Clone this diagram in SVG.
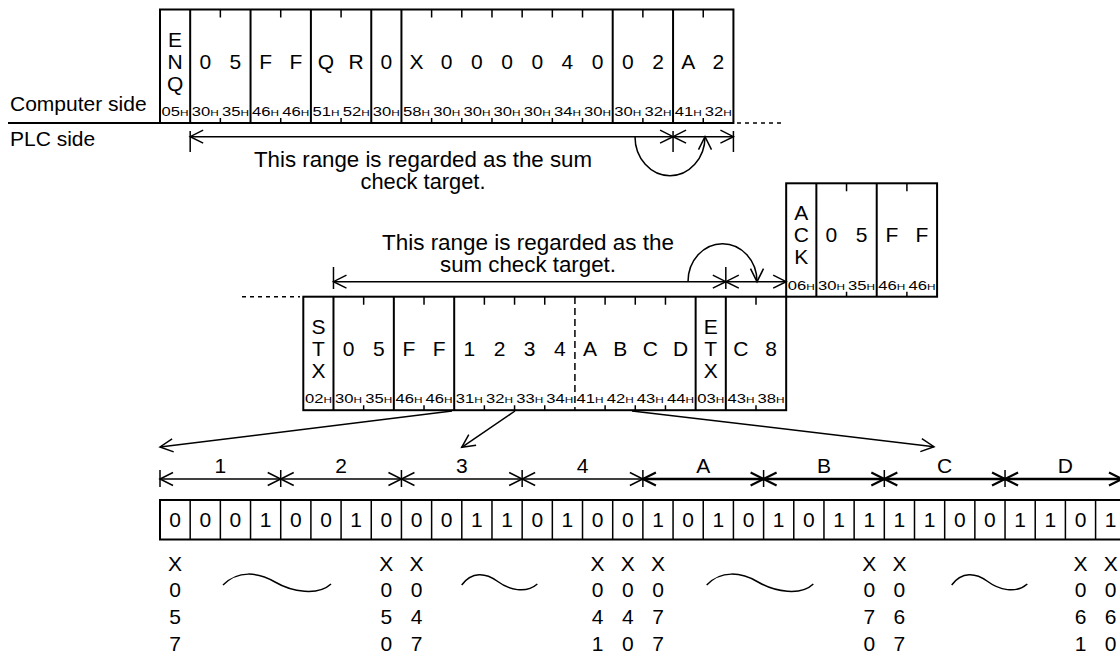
<svg xmlns="http://www.w3.org/2000/svg" width="1120" height="655" viewBox="0 0 1120 655">
<style>
text{font-family:"Liberation Sans",Arial,Helvetica,sans-serif;fill:#000}
.c{font-size:21px;text-anchor:middle}
.l{font-size:21px}
.r{font-size:22px;text-anchor:middle}
.hx{font-size:12px}
.hs{font-size:8.5px}
.fr{fill:none;stroke:#000;stroke-width:2}
.tk{fill:none;stroke:#000;stroke-width:1.5}
.dm{fill:none;stroke:#000;stroke-width:1.5}
.dmb{fill:none;stroke:#000;stroke-width:2.4}
.dot{fill:none;stroke:#000;stroke-width:1.5;stroke-dasharray:4 4}
.sq{fill:none;stroke:#000;stroke-width:1.5}
</style>
<defs>
<marker id="ah" markerUnits="userSpaceOnUse" orient="auto-start-reverse" overflow="visible" markerWidth="1" markerHeight="1"><path d="M-13,-6.5 L0,0 L-13,6.5" fill="none" stroke="#000" stroke-width="1.5"/></marker>
<marker id="ahb" markerUnits="userSpaceOnUse" orient="auto-start-reverse" overflow="visible" markerWidth="1" markerHeight="1"><path d="M-13,-6.5 L0,0 L-13,6.5" fill="none" stroke="#000" stroke-width="2.2"/></marker>
</defs>

<g id="side-labels">
<text class="l" x="10" y="110.7">Computer side</text>
<text class="l" x="10" y="145.7">PLC side</text>
<path class="fr" d="M8,123 H733.42"/>
<path class="dot" d="M737,123 H785"/>
<path class="dot" d="M242,296.7 H300"/>
</g>

<g id="frame-enq">
<rect class="fr" x="160" y="9.5" width="573.42" height="113.5"/>
<path class="fr" d="M190.18,9.5V123M250.54,9.5V123M310.9,9.5V123M371.26,9.5V123M401.44,9.5V123M612.7,9.5V123M673.06,9.5V123"/>
<path class="tk" d="M220.36,9.5v8M280.72,9.5v8M341.08,9.5v8M431.62,9.5v8M461.8,9.5v8M491.98,9.5v8M522.16,9.5v8M552.34,9.5v8M582.52,9.5v8M642.88,9.5v8M703.24,9.5v8M220.36,123v-5M280.72,123v-5M341.08,123v-5M431.62,123v-5M461.8,123v-5M491.98,123v-5M522.16,123v-5M552.34,123v-5M582.52,123v-5M642.88,123v-5M703.24,123v-5"/>
<text class="c" x="175.09" y="46.5">E</text><text class="c" x="175.09" y="68.5">N</text><text class="c" x="175.09" y="90.5">Q</text>
<text class="c" x="205.27" y="68.5">0</text><text class="c" x="235.45" y="68.5">5</text>
<text class="c" x="265.63" y="68.5">F</text><text class="c" x="295.81" y="68.5">F</text>
<text class="c" x="325.99" y="68.5">Q</text><text class="c" x="356.17" y="68.5">R</text>
<text class="c" x="386.35" y="68.5">0</text>
<text class="c" x="416.53" y="68.5">X</text><text class="c" x="446.71" y="68.5">0</text><text class="c" x="476.89" y="68.5">0</text><text class="c" x="507.07" y="68.5">0</text><text class="c" x="537.25" y="68.5">0</text><text class="c" x="567.43" y="68.5">4</text><text class="c" x="597.61" y="68.5">0</text>
<text class="c" x="627.79" y="68.5">0</text><text class="c" x="657.97" y="68.5">2</text>
<text class="c" x="688.15" y="68.5">A</text><text class="c" x="718.33" y="68.5">2</text>
<text class="hx" x="161.6" y="116" textLength="27" lengthAdjust="spacingAndGlyphs">05<tspan class="hs">H</tspan></text>
<text class="hx" x="191.78" y="116" textLength="27" lengthAdjust="spacingAndGlyphs">30<tspan class="hs">H</tspan></text>
<text class="hx" x="221.96" y="116" textLength="27" lengthAdjust="spacingAndGlyphs">35<tspan class="hs">H</tspan></text>
<text class="hx" x="252.14" y="116" textLength="27" lengthAdjust="spacingAndGlyphs">46<tspan class="hs">H</tspan></text>
<text class="hx" x="282.32" y="116" textLength="27" lengthAdjust="spacingAndGlyphs">46<tspan class="hs">H</tspan></text>
<text class="hx" x="312.5" y="116" textLength="27" lengthAdjust="spacingAndGlyphs">51<tspan class="hs">H</tspan></text>
<text class="hx" x="342.68" y="116" textLength="27" lengthAdjust="spacingAndGlyphs">52<tspan class="hs">H</tspan></text>
<text class="hx" x="372.86" y="116" textLength="27" lengthAdjust="spacingAndGlyphs">30<tspan class="hs">H</tspan></text>
<text class="hx" x="403.04" y="116" textLength="27" lengthAdjust="spacingAndGlyphs">58<tspan class="hs">H</tspan></text>
<text class="hx" x="433.22" y="116" textLength="27" lengthAdjust="spacingAndGlyphs">30<tspan class="hs">H</tspan></text>
<text class="hx" x="463.4" y="116" textLength="27" lengthAdjust="spacingAndGlyphs">30<tspan class="hs">H</tspan></text>
<text class="hx" x="493.58" y="116" textLength="27" lengthAdjust="spacingAndGlyphs">30<tspan class="hs">H</tspan></text>
<text class="hx" x="523.76" y="116" textLength="27" lengthAdjust="spacingAndGlyphs">30<tspan class="hs">H</tspan></text>
<text class="hx" x="553.94" y="116" textLength="27" lengthAdjust="spacingAndGlyphs">34<tspan class="hs">H</tspan></text>
<text class="hx" x="584.12" y="116" textLength="27" lengthAdjust="spacingAndGlyphs">30<tspan class="hs">H</tspan></text>
<text class="hx" x="614.3" y="116" textLength="27" lengthAdjust="spacingAndGlyphs">30<tspan class="hs">H</tspan></text>
<text class="hx" x="644.48" y="116" textLength="27" lengthAdjust="spacingAndGlyphs">32<tspan class="hs">H</tspan></text>
<text class="hx" x="674.66" y="116" textLength="27" lengthAdjust="spacingAndGlyphs">41<tspan class="hs">H</tspan></text>
<text class="hx" x="704.84" y="116" textLength="27" lengthAdjust="spacingAndGlyphs">32<tspan class="hs">H</tspan></text>
</g>

<g id="label-range-1">
<text class="r" x="423" y="167" textLength="338" lengthAdjust="spacingAndGlyphs">This range is regarded as the sum</text>
<text class="r" x="423" y="189" textLength="125" lengthAdjust="spacingAndGlyphs">check target.</text>
</g>

<g id="frame-ack">
<rect class="fr" x="786.18" y="183.3" width="150.9" height="113.4"/>
<path class="fr" d="M816.36,183.3V296.7M876.72,183.3V296.7"/>
<path class="tk" d="M846.54,183.3v8M906.9,183.3v8M846.54,296.7v-5M906.9,296.7v-5"/>
<text class="c" x="801.27" y="220.3">A</text><text class="c" x="801.27" y="242.3">C</text><text class="c" x="801.27" y="264.3">K</text>
<text class="c" x="831.45" y="242.3">0</text><text class="c" x="861.63" y="242.3">5</text>
<text class="c" x="891.81" y="242.3">F</text><text class="c" x="922" y="242.3">F</text>
<text class="hx" x="787.78" y="290" textLength="27" lengthAdjust="spacingAndGlyphs">06<tspan class="hs">H</tspan></text>
<text class="hx" x="817.96" y="290" textLength="27" lengthAdjust="spacingAndGlyphs">30<tspan class="hs">H</tspan></text>
<text class="hx" x="848.14" y="290" textLength="27" lengthAdjust="spacingAndGlyphs">35<tspan class="hs">H</tspan></text>
<text class="hx" x="878.32" y="290" textLength="27" lengthAdjust="spacingAndGlyphs">46<tspan class="hs">H</tspan></text>
<text class="hx" x="908.5" y="290" textLength="27" lengthAdjust="spacingAndGlyphs">46<tspan class="hs">H</tspan></text>
</g>

<g id="label-range-2">
<text class="r" x="528" y="250" textLength="292" lengthAdjust="spacingAndGlyphs">This range is regarded as the</text>
<text class="r" x="528" y="272" textLength="176" lengthAdjust="spacingAndGlyphs">sum check target.</text>
</g>

<g id="frame-stx">
<rect class="fr" x="303.3" y="296.7" width="482.88" height="113.5"/>
<path class="fr" d="M333.48,296.7V410.2M393.84,296.7V410.2M454.2,296.7V410.2M695.64,296.7V410.2M725.82,296.7V410.2"/>
<path class="tk" d="M574.92,297V410" stroke-dasharray="7 4"/>
<path class="tk" d="M363.66,296.7v8M424.02,296.7v8M484.38,296.7v8M514.56,296.7v8M544.74,296.7v8M605.1,296.7v8M635.28,296.7v8M665.46,296.7v8M756,296.7v8M363.66,410.2v-5M424.02,410.2v-5M484.38,410.2v-5M514.56,410.2v-5M544.74,410.2v-5M605.1,410.2v-5M635.28,410.2v-5M665.46,410.2v-5M756,410.2v-5"/>
<text class="c" x="318.39" y="334">S</text><text class="c" x="318.39" y="356">T</text><text class="c" x="318.39" y="378">X</text>
<text class="c" x="348.57" y="356">0</text><text class="c" x="378.75" y="356">5</text>
<text class="c" x="408.93" y="356">F</text><text class="c" x="439.11" y="356">F</text>
<text class="c" x="469.29" y="356">1</text><text class="c" x="499.47" y="356">2</text><text class="c" x="529.65" y="356">3</text><text class="c" x="559.83" y="356">4</text>
<text class="c" x="590.01" y="356">A</text><text class="c" x="620.19" y="356">B</text><text class="c" x="650.37" y="356">C</text><text class="c" x="680.55" y="356">D</text>
<text class="c" x="710.73" y="334">E</text><text class="c" x="710.73" y="356">T</text><text class="c" x="710.73" y="378">X</text>
<text class="c" x="740.91" y="356">C</text><text class="c" x="771.09" y="356">8</text>
<text class="hx" x="304.9" y="403.2" textLength="27" lengthAdjust="spacingAndGlyphs">02<tspan class="hs">H</tspan></text>
<text class="hx" x="335.08" y="403.2" textLength="27" lengthAdjust="spacingAndGlyphs">30<tspan class="hs">H</tspan></text>
<text class="hx" x="365.26" y="403.2" textLength="27" lengthAdjust="spacingAndGlyphs">35<tspan class="hs">H</tspan></text>
<text class="hx" x="395.44" y="403.2" textLength="27" lengthAdjust="spacingAndGlyphs">46<tspan class="hs">H</tspan></text>
<text class="hx" x="425.62" y="403.2" textLength="27" lengthAdjust="spacingAndGlyphs">46<tspan class="hs">H</tspan></text>
<text class="hx" x="455.8" y="403.2" textLength="27" lengthAdjust="spacingAndGlyphs">31<tspan class="hs">H</tspan></text>
<text class="hx" x="485.98" y="403.2" textLength="27" lengthAdjust="spacingAndGlyphs">32<tspan class="hs">H</tspan></text>
<text class="hx" x="516.16" y="403.2" textLength="27" lengthAdjust="spacingAndGlyphs">33<tspan class="hs">H</tspan></text>
<text class="hx" x="546.34" y="403.2" textLength="27" lengthAdjust="spacingAndGlyphs">34<tspan class="hs">H</tspan></text>
<text class="hx" x="576.52" y="403.2" textLength="27" lengthAdjust="spacingAndGlyphs">41<tspan class="hs">H</tspan></text>
<text class="hx" x="606.7" y="403.2" textLength="27" lengthAdjust="spacingAndGlyphs">42<tspan class="hs">H</tspan></text>
<text class="hx" x="636.88" y="403.2" textLength="27" lengthAdjust="spacingAndGlyphs">43<tspan class="hs">H</tspan></text>
<text class="hx" x="667.06" y="403.2" textLength="27" lengthAdjust="spacingAndGlyphs">44<tspan class="hs">H</tspan></text>
<text class="hx" x="697.24" y="403.2" textLength="27" lengthAdjust="spacingAndGlyphs">03<tspan class="hs">H</tspan></text>
<text class="hx" x="727.42" y="403.2" textLength="27" lengthAdjust="spacingAndGlyphs">43<tspan class="hs">H</tspan></text>
<text class="hx" x="757.6" y="403.2" textLength="27" lengthAdjust="spacingAndGlyphs">38<tspan class="hs">H</tspan></text>
</g>

<g id="bits">
<rect class="fr" x="160" y="500" width="965.76" height="39.5"/>
<path class="tk" d="M190.18,500V539.5M220.36,500V539.5M250.54,500V539.5M280.72,500V539.5M310.9,500V539.5M341.08,500V539.5M371.26,500V539.5M401.44,500V539.5M431.62,500V539.5M461.8,500V539.5M491.98,500V539.5M522.16,500V539.5M552.34,500V539.5M582.52,500V539.5M612.7,500V539.5M642.88,500V539.5M673.06,500V539.5M703.24,500V539.5M733.42,500V539.5M763.6,500V539.5M793.78,500V539.5M823.96,500V539.5M854.14,500V539.5M884.32,500V539.5M914.5,500V539.5M944.68,500V539.5M974.86,500V539.5M1005.04,500V539.5M1035.22,500V539.5M1065.4,500V539.5M1095.58,500V539.5"/>
<text class="c" x="175.09" y="527">0</text><text class="c" x="205.27" y="527">0</text><text class="c" x="235.45" y="527">0</text><text class="c" x="265.63" y="527">1</text>
<text class="c" x="295.81" y="527">0</text><text class="c" x="325.99" y="527">0</text><text class="c" x="356.17" y="527">1</text><text class="c" x="386.35" y="527">0</text>
<text class="c" x="416.53" y="527">0</text><text class="c" x="446.71" y="527">0</text><text class="c" x="476.89" y="527">1</text><text class="c" x="507.07" y="527">1</text>
<text class="c" x="537.25" y="527">0</text><text class="c" x="567.43" y="527">1</text><text class="c" x="597.61" y="527">0</text><text class="c" x="627.79" y="527">0</text>
<text class="c" x="657.97" y="527">1</text><text class="c" x="688.15" y="527">0</text><text class="c" x="718.33" y="527">1</text><text class="c" x="748.51" y="527">0</text>
<text class="c" x="778.69" y="527">1</text><text class="c" x="808.87" y="527">0</text><text class="c" x="839.05" y="527">1</text><text class="c" x="869.23" y="527">1</text>
<text class="c" x="899.41" y="527">1</text><text class="c" x="929.59" y="527">1</text><text class="c" x="959.77" y="527">0</text><text class="c" x="989.95" y="527">0</text>
<text class="c" x="1020.13" y="527">1</text><text class="c" x="1050.31" y="527">1</text><text class="c" x="1080.49" y="527">0</text><text class="c" x="1110.67" y="527">1</text>
</g>

<g id="segment-labels">
<text class="c" x="220.36" y="473">1</text><text class="c" x="341.08" y="473">2</text><text class="c" x="461.8" y="473">3</text><text class="c" x="582.52" y="473">4</text>
<text class="c" x="703.24" y="473">A</text><text class="c" x="823.96" y="473">B</text><text class="c" x="944.68" y="473">C</text><text class="c" x="1065.4" y="473">D</text>
</g>

<g id="device-labels">
<text class="c" x="175.09" y="570.5">X</text><text class="c" x="175.09" y="597.3">0</text><text class="c" x="175.09" y="624">5</text><text class="c" x="175.09" y="650.8">7</text>
<text class="c" x="386.35" y="570.5">X</text><text class="c" x="386.35" y="597.3">0</text><text class="c" x="386.35" y="624">5</text><text class="c" x="386.35" y="650.8">0</text>
<text class="c" x="416.53" y="570.5">X</text><text class="c" x="416.53" y="597.3">0</text><text class="c" x="416.53" y="624">4</text><text class="c" x="416.53" y="650.8">7</text>
<text class="c" x="597.61" y="570.5">X</text><text class="c" x="597.61" y="597.3">0</text><text class="c" x="597.61" y="624">4</text><text class="c" x="597.61" y="650.8">1</text>
<text class="c" x="627.79" y="570.5">X</text><text class="c" x="627.79" y="597.3">0</text><text class="c" x="627.79" y="624">4</text><text class="c" x="627.79" y="650.8">0</text>
<text class="c" x="657.97" y="570.5">X</text><text class="c" x="657.97" y="597.3">0</text><text class="c" x="657.97" y="624">7</text><text class="c" x="657.97" y="650.8">7</text>
<text class="c" x="869.23" y="570.5">X</text><text class="c" x="869.23" y="597.3">0</text><text class="c" x="869.23" y="624">7</text><text class="c" x="869.23" y="650.8">0</text>
<text class="c" x="899.41" y="570.5">X</text><text class="c" x="899.41" y="597.3">0</text><text class="c" x="899.41" y="624">6</text><text class="c" x="899.41" y="650.8">7</text>
<text class="c" x="1080.49" y="570.5">X</text><text class="c" x="1080.49" y="597.3">0</text><text class="c" x="1080.49" y="624">6</text><text class="c" x="1080.49" y="650.8">1</text>
<text class="c" x="1110.67" y="570.5">X</text><text class="c" x="1110.67" y="597.3">0</text><text class="c" x="1110.67" y="624">6</text><text class="c" x="1110.67" y="650.8">0</text>
<path class="sq" d="M223,585 C238,570 258,572 275,582 C292,592 318,596 331,584"/>
<path class="sq" d="M461.7,585 C472,571 486,573 497,581 C509,590 526,594 537.3,584"/>
<path class="sq" d="M706.7,585 C721,570 741,572 758,582 C775,592 801,596 813.3,584"/>
<path class="sq" d="M951.7,585 C962,571 976,573 987,581 C999,590 1016,594 1027.3,584"/>
</g>

<g id="connectors">
<path class="dm" d="M190.18,131V152M673.06,131V152M733.42,131V152"/>
<line class="dm" x1="190.18" y1="136.7" x2="673.06" y2="136.7" marker-start="url(#ah)" marker-end="url(#ah)"/>
<line class="dm" x1="673.06" y1="136.7" x2="733.42" y2="136.7" marker-start="url(#ah)" marker-end="url(#ah)"/>
<path class="dm" d="M635,136.7 A35,39 0 0 0 705,136.7" marker-end="url(#ah)"/>
<path class="dm" d="M333.48,267V289M725.82,267V289"/>
<line class="dm" x1="333.48" y1="281.7" x2="725.82" y2="281.7" marker-start="url(#ah)" marker-end="url(#ah)"/>
<line class="dm" x1="725.82" y1="281.7" x2="786.18" y2="281.7" marker-start="url(#ah)" marker-end="url(#ah)"/>
<path class="dm" d="M688,281.7 A34.5,38 0 0 1 757,281.7" marker-end="url(#ah)"/>
<line class="dm" x1="452" y1="411" x2="160" y2="447" marker-end="url(#ah)"/>
<line class="dm" x1="515" y1="411" x2="461.7" y2="447.3" marker-end="url(#ah)"/>
<line class="dm" x1="632" y1="411" x2="934" y2="446.7" marker-end="url(#ah)"/>
<path class="dm" d="M160,470V487M280.72,470V487M401.44,470V487M522.16,470V487M642.88,470V487M763.6,470V487M884.32,470V487M1005.04,470V487"/>
<line class="dm" x1="160" y1="479" x2="280.72" y2="479" marker-start="url(#ah)" marker-end="url(#ah)"/>
<line class="dm" x1="280.72" y1="479" x2="401.44" y2="479" marker-start="url(#ah)" marker-end="url(#ah)"/>
<line class="dm" x1="401.44" y1="479" x2="522.16" y2="479" marker-start="url(#ah)" marker-end="url(#ah)"/>
<line class="dm" x1="522.16" y1="479" x2="642.88" y2="479" marker-start="url(#ah)" marker-end="url(#ah)"/>
<line class="dmb" x1="642.88" y1="479" x2="763.6" y2="479" marker-start="url(#ahb)" marker-end="url(#ahb)"/>
<line class="dmb" x1="763.6" y1="479" x2="884.32" y2="479" marker-start="url(#ahb)" marker-end="url(#ahb)"/>
<line class="dmb" x1="884.32" y1="479" x2="1005.04" y2="479" marker-start="url(#ahb)" marker-end="url(#ahb)"/>
<line class="dmb" x1="1005.04" y1="479" x2="1122" y2="479" marker-start="url(#ahb)" marker-end="url(#ahb)"/>
</g>
</svg>
